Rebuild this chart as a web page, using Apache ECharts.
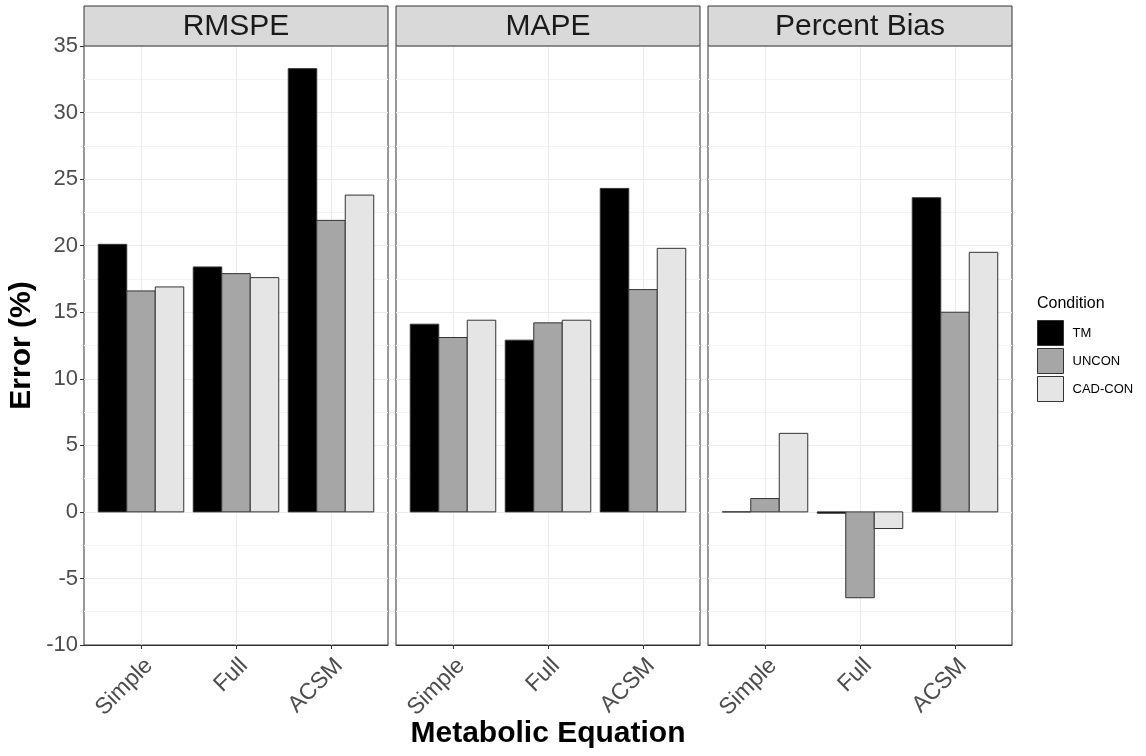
<!DOCTYPE html>
<html>
<head>
<meta charset="utf-8">
<style>
  html, body { margin: 0; padding: 0; background: #fff; }
  #chart { width: 1146px; height: 756px; }
</style>
<script src="https://cdn.jsdelivr.net/npm/echarts@6/dist/echarts.min.js"></script>
</head>
<body>
<div id="chart"></div>
<script>
// Facets, categories and conditions
const panels = ['RMSPE', 'MAPE', 'Percent Bias'];
const equations = ['Simple', 'Full', 'ACSM'];
const conditions = ['TM', 'UNCON', 'CAD-CON'];
const conditionColors = ['#000000', '#a6a6a6', '#e5e5e5'];
const yTicks = [-10, 35, 5]; // min, max, step

// Error (%) per equation (Simple, Full, ACSM) for each condition
const rmspeTM = [20.1, 18.4, 33.3];
const rmspeUNCON = [16.6, 17.9, 21.9];
const rmspeCAD = [16.9, 17.6, 23.8];

const mapeTM = [14.1, 12.9, 24.3];
const mapeUNCON = [13.1, 14.2, 16.7];
const mapeCAD = [14.4, 14.4, 19.8];

const biasTM = [0.0, -0.1, 23.6];
const biasUNCON = [1.0, -6.45, 15.0];
const biasCAD = [5.9, -1.25, 19.5];

const panelData = [
  [rmspeTM, rmspeUNCON, rmspeCAD],
  [mapeTM, mapeUNCON, mapeCAD],
  [biasTM, biasUNCON, biasCAD]
];

// Layout
const FONT = '"Liberation Sans", Arial, sans-serif';
const panelLefts = [84, 396, 708];
const panelWidth = 304;
const panelTop = 46;
const panelHeight = 599;
const stripTop = 6;
const stripHeight = 40;
const dodge = 0.3;      // distance between dodged bars (category units)
const halfBar = 0.15;   // half bar width (category units)

const chart = echarts.init(document.getElementById('chart'), null, { renderer: 'canvas' });

const grids = panelLefts.map(l => ({
  left: l, top: panelTop, width: panelWidth, height: panelHeight,
  show: true, borderColor: '#333333', borderWidth: 1, backgroundColor: '#ffffff',
  containLabel: false, outerBoundsMode: 'none'
}));

const xAxes = panelLefts.map((l, i) => ({
  type: 'value', gridIndex: i, min: 0.4, max: 3.6,
  name: i === 1 ? 'Metabolic Equation' : '',
  nameLocation: 'middle', nameGap: 74, nameMoveOverlap: false,
  nameTextStyle: { fontFamily: FONT, fontSize: 30, fontWeight: 'bold', color: '#000' },
  axisLine: { show: true, onZero: false, lineStyle: { color: '#333333', width: 1 } },
  axisTick: { show: true, length: 4, lineStyle: { color: '#333333' }, customValues: [1, 2, 3] },
  axisLabel: {
    customValues: [1, 2, 3], rotate: 45, margin: 9,
    fontFamily: FONT, fontSize: 23, color: '#4d4d4d', verticalAlign: 'top',
    formatter: v => equations[Math.round(v) - 1] || ''
  },
  splitLine: { show: true, lineStyle: { color: '#ebebeb', width: 1 } }
}));

const yAxes = panelLefts.map((l, i) => ({
  type: 'value', gridIndex: i, min: yTicks[0], max: yTicks[1], interval: yTicks[2],
  name: i === 0 ? 'Error (%)' : '',
  nameLocation: 'middle', nameGap: 47, nameRotate: 90,
  nameTextStyle: { fontFamily: FONT, fontSize: 30, fontWeight: 'bold', color: '#000' },
  axisLine: { show: false },
  axisTick: { show: i === 0, length: 4, lineStyle: { color: '#333333' } },
  axisLabel: { show: i === 0, margin: 6, fontFamily: FONT, fontSize: 22, color: '#4d4d4d' },
  splitLine: { show: true, lineStyle: { color: '#ebebeb', width: 1 } },
  minorTick: { show: false, splitNumber: 2 },
  minorSplitLine: { show: true, lineStyle: { color: '#f3f3f3', width: 1 } }
}));

const series = [];
panelData.forEach((groups, p) => {
  groups.forEach((vals, c) => {
    const off = (c - 1) * dodge;
    series.push({
      type: 'custom',
      name: conditions[c],
      xAxisIndex: p, yAxisIndex: p,
      itemStyle: { color: conditionColors[c], borderColor: '#333333', borderWidth: 1 },
      encode: { x: 0, y: 1 },
      data: vals.map((v, k) => [k + 1, v]),
      renderItem: (params, api) => {
        const x = api.value(0), y = api.value(1);
        const a = api.coord([x + off - halfBar, y]);
        const b = api.coord([x + off + halfBar, 0]);
        return {
          type: 'rect',
          shape: {
            x: a[0], y: Math.min(a[1], b[1]),
            width: b[0] - a[0], height: Math.abs(b[1] - a[1])
          },
          style: { fill: conditionColors[c], stroke: '#333333', lineWidth: 1 }
        };
      }
    });
  });
});

// Facet strips
const graphics = [];
panelLefts.forEach((l, i) => {
  graphics.push({
    type: 'rect', z: 10,
    shape: { x: l, y: stripTop, width: panelWidth, height: stripHeight },
    style: { fill: '#d9d9d9', stroke: '#333333', lineWidth: 1 }
  });
  graphics.push({
    type: 'text', z: 11,
    x: l + panelWidth / 2, y: stripTop + stripHeight / 2 + 1,
    style: {
      text: panels[i], fontFamily: FONT, fontSize: 30, fill: '#1a1a1a',
      align: 'center', verticalAlign: 'middle'
    }
  });
});
graphics.push({
  type: 'text', z: 11, x: 1037, y: 304,
  style: { text: 'Condition', fontFamily: FONT, fontSize: 16, fill: '#000',
           align: 'left', verticalAlign: 'middle' }
});

chart.setOption({
  animation: false,
  backgroundColor: '#ffffff',
  grid: grids,
  xAxis: xAxes,
  yAxis: yAxes,
  legend: {
    orient: 'vertical', left: 1037, top: 320,
    itemWidth: 26, itemHeight: 25, itemGap: 2, padding: 0,
    icon: 'rect',
    textStyle: { fontFamily: FONT, fontSize: 13, color: '#000', padding: [0, 0, 0, 4] },
    data: conditions.map((n, c) => ({
      name: n, icon: 'rect',
      itemStyle: { color: conditionColors[c], borderColor: '#333333', borderWidth: 1 }
    }))
  },
  series: series,
  graphic: graphics
});
</script>
</body>
</html>
